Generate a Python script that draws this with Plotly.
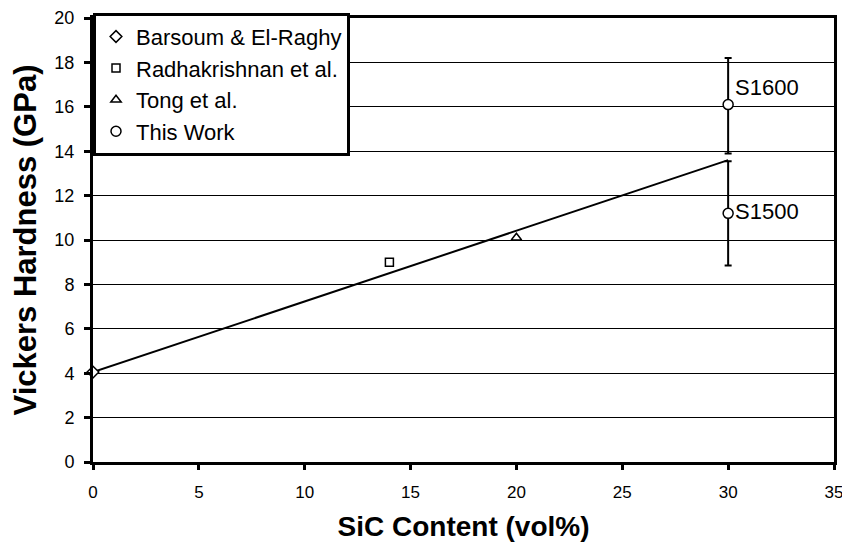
import plotly.graph_objects as go

# Data
barsoum_x = [0]
barsoum_y = [4.05]
radha_x = [14]
radha_y = [9.0]
tong_x = [20]
tong_y = [10.1]
work_x = [30, 30]
work_y = [16.1, 11.2]
work_err_plus = [2.1, 2.35]
work_err_minus = [2.2, 2.35]
work_labels = ["S1600", "S1500"]
work_label_y = [16.85, 11.3]
trend_x = [0, 30]
trend_y = [4.05, 13.6]

x_ticks = [0, 5, 10, 15, 20, 25, 30, 35]
y_ticks = [0, 2, 4, 6, 8, 10, 12, 14, 16, 18, 20]

FONT = "Liberation Sans, Arial, sans-serif"

fig = go.Figure()

fig.add_trace(go.Scatter(x=trend_x, y=trend_y, mode="lines",
                         line=dict(color="black", width=2), showlegend=False,
                         hoverinfo="skip"))

mk = dict(color="white", line=dict(color="black", width=1.5))

fig.add_trace(go.Scatter(x=barsoum_x, y=barsoum_y, mode="markers",
                         name="Barsoum & El-Raghy",
                         marker=dict(symbol="diamond", size=9, **mk), cliponaxis=False))
fig.add_trace(go.Scatter(x=radha_x, y=radha_y, mode="markers",
                         name="Radhakrishnan et al.",
                         marker=dict(symbol="square", size=8, **mk)))
fig.add_trace(go.Scatter(x=tong_x, y=tong_y, mode="markers",
                         name="Tong et al.",
                         marker=dict(symbol="triangle-up", size=9, **mk)))
fig.add_trace(go.Scatter(x=work_x, y=work_y, mode="markers",
                         name="This Work",
                         marker=dict(symbol="circle", size=10, **mk),
                         error_y=dict(type="data", symmetric=False,
                                      array=work_err_plus, arrayminus=work_err_minus,
                                      color="black", thickness=2, width=3.5)))

for xv, yv, lab in zip(work_x, work_label_y, work_labels):
    fig.add_annotation(x=xv, y=yv, text=lab, showarrow=False,
                       xanchor="left", yanchor="middle", xshift=5,
                       font=dict(family=FONT, size=22, color="black"))

fig.update_layout(
    width=834, height=540,
    margin=dict(l=85, r=8, t=5, b=86),
    plot_bgcolor="white", paper_bgcolor="white",
    font=dict(family=FONT, color="black"),
    legend=dict(x=0, y=1.012, xanchor="left", yanchor="top",
                bgcolor="white", bordercolor="black", borderwidth=3,
                font=dict(family=FONT, size=22, color="black"), tracegroupgap=0,
                itemwidth=30),
    showlegend=True,
)

fig.update_xaxes(range=[0, 35], tickvals=x_ticks, showgrid=False, zeroline=False,
                 showline=True, linecolor="black", linewidth=3, mirror=True,
                 ticks="outside", ticklen=5, tickwidth=3, tickcolor="black",
                 tickfont=dict(size=17), automargin=False, ticklabelstandoff=8,
                 ticklabeloverflow="allow",
                 title=dict(text="<b>SiC Content (vol%)</b>", font=dict(size=28), standoff=15))
fig.update_yaxes(range=[0, 20], tickvals=y_ticks, showgrid=True, gridcolor="black",
                 gridwidth=1, zeroline=False,
                 showline=True, linecolor="black", linewidth=3, mirror=True,
                 ticks="outside", ticklen=6, tickwidth=3, tickcolor="black",
                 tickfont=dict(size=18), automargin=False, ticklabelstandoff=6,
                 title=dict(text="<b>Vickers Hardness (GPa)</b>", font=dict(size=31), standoff=10))

fig.write_html("out.html")
